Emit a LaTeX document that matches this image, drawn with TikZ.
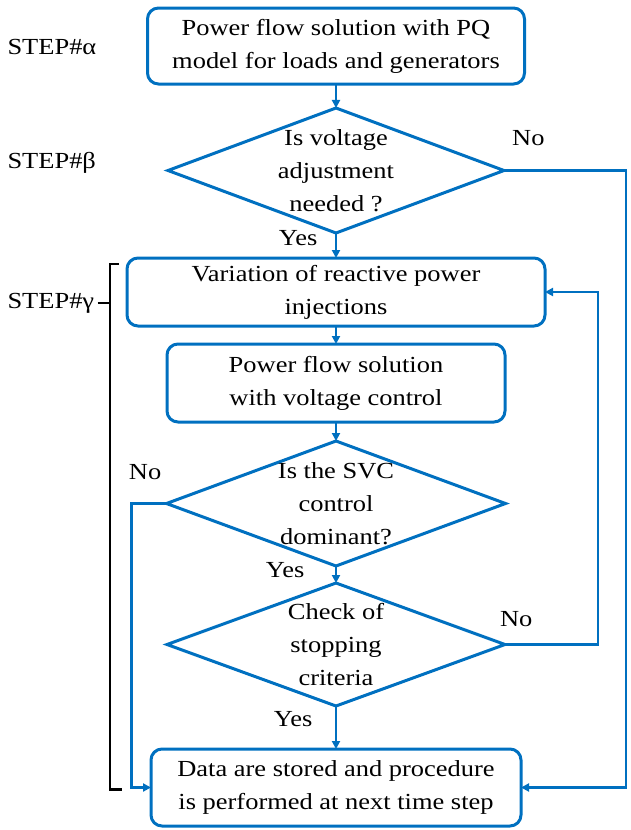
\documentclass[tikz,border=0pt]{standalone}
\usepackage{fontspec}
\setmainfont{Liberation Serif}[FakeStretch=1.15]
\usetikzlibrary{shapes.geometric, arrows.meta, positioning, calc}
\definecolor{flowblue}{RGB}{0,112,192}

\begin{document}
\begin{tikzpicture}[
    x=1pt, y=1pt,
    every node/.style={font=\fontsize{23}{33}\selectfont},
    procbox/.style={rectangle, draw=flowblue, line width=3pt, rounded corners=11pt, inner sep=0pt, outer sep=0pt, align=center},
    decision/.style={diamond, draw=flowblue, line width=3pt, inner sep=0pt, outer sep=0pt},
    steplabel/.style={anchor=west},
    arrow/.style={-{Triangle[length=8pt, width=8pt]}, draw=flowblue, line width=2.6pt},
    bracket/.style={draw=black, line width=2.2pt},
]
\useasboundingbox (0,0) rectangle (630,-830);

% ============ Main column ============
\node[procbox, minimum width=377pt, minimum height=76pt] (pq) at (336,-46) {Power flow solution with PQ\\model for loads and generators};

\node[decision, minimum width=336pt, minimum height=125pt, below=24pt of pq,
      label={[align=center]center:Is voltage\\adjustment\\needed ?}] (adj) {};

\node[procbox, minimum width=418pt, minimum height=68pt, below=25pt of adj] (var) {Variation of reactive power\\injections};
\node[procbox, minimum width=338pt, minimum height=78pt, below=18pt of var] (pfvc) {Power flow solution\\with voltage control};

\node[decision, minimum width=339pt, minimum height=125pt, below=19pt of pfvc,
      label={[align=center]center:Is the SVC\\control\\dominant?}] (svc) {};
\node[decision, minimum width=338pt, minimum height=123pt, below=17pt of svc,
      label={[align=center]center:Check of\\stopping\\criteria}] (stop) {};

\node[procbox, minimum width=370pt, minimum height=77pt, below=43pt of stop] (data) {Data are stored and procedure\\is performed at next time step};

% ============ Step labels ============
\node[steplabel] (stepa) at (4,-47) {STEP\#α};
\node[steplabel] (stepb) at (4,-163) {STEP\#β};
\node[steplabel] (stepg) at (4,-303) {STEP\#γ};

\draw[bracket] ([xshift=-8pt, yshift=-6pt]var.north west) -| ([xshift=-41pt, yshift=-2pt]data.west) -- ++(12pt,0);
\draw[bracket] (stepg.east) -- ++(11pt,0);

% ============ Arrows ============
\draw[arrow] (pq) -- (adj);
\draw[arrow] (adj) -- node[left=14pt, pos=0.2] {Yes} (var);
\draw[arrow] (var) -- (pfvc);
\draw[arrow] (pfvc) -- (svc);
\draw[arrow] (svc) -- node[left=27pt, pos=0.24] {Yes} (stop);
\draw[arrow] (stop) -- node[left=19pt, pos=0.3] {Yes} (data);

% loops
\draw[arrow] (adj.east) -- node[above=20pt, pos=0.2] {No} ++(122pt,0) |- (data.east);
\draw[arrow] (stop.east) -- node[above=13pt, pos=0.12] {No} ++(93pt,0) |- (var.east);
\draw[arrow] (svc.west) -- node[above=19pt, pos=0.61] {No} ++(-35pt,0) |- (data.west);

\end{tikzpicture}
\end{document}
